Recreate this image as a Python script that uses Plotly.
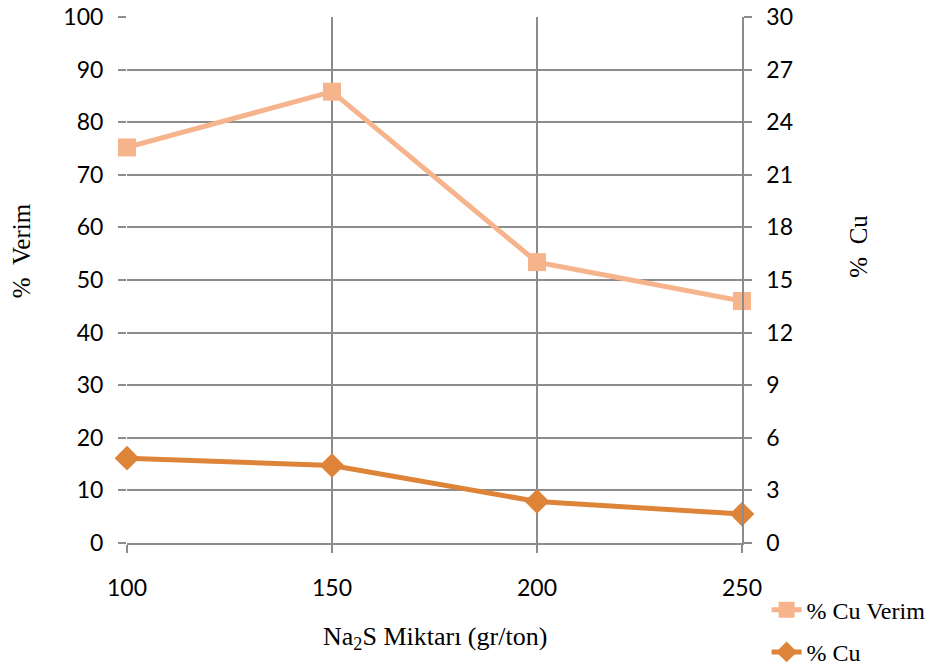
import plotly.graph_objects as go

# Na2S dosage (gr/ton)
na2s = [100, 150, 200, 250]
# Copper recovery (%) - left axis
cu_verim = [75.2, 85.8, 53.4, 46.0]
# Copper grade (%) - right axis
cu_grade = [4.84, 4.42, 2.37, 1.65]

left_ticks = list(range(0, 101, 10))
right_ticks = list(range(0, 31, 3))

verim_color = "#F6B48C"
cu_color = "#DD8439"
grid_color = "#8C8C8C"
tick_font = dict(family="Lato, 'Open Sans', sans-serif", size=23, color="#000000")
serif = "'Liberation Serif', 'Times New Roman', serif"
nb = "\u00a0"

fig = go.Figure()
fig.add_trace(go.Scatter(
    x=na2s, y=cu_verim, name="% Cu Verim", mode="lines+markers",
    line=dict(color=verim_color, width=5),
    marker=dict(symbol="square", size=18, color=verim_color),
    cliponaxis=False, legend="legend", yaxis="y",
))
fig.add_trace(go.Scatter(
    x=na2s, y=cu_grade, name="% Cu", mode="lines+markers",
    line=dict(color=cu_color, width=5),
    marker=dict(symbol="diamond", size=19, color=cu_color),
    cliponaxis=False, legend="legend2", yaxis="y2",
))

fig.update_layout(
    width=947, height=667,
    margin=dict(l=127, r=205, t=17, b=124, autoexpand=False),
    paper_bgcolor="white", plot_bgcolor="white",
    xaxis=dict(
        range=[100, 250], tickvals=na2s, ticktext=[str(v) for v in na2s],
        showgrid=True, gridcolor=grid_color, gridwidth=1.5,
        showline=True, linecolor=grid_color, linewidth=1.5,
        ticks="outside", ticklen=8, tickcolor=grid_color, tickwidth=1.5,
        ticklabelstandoff=16, tickfont=tick_font, zeroline=False,
    ),
    yaxis=dict(
        range=[0, 100], tickvals=left_ticks,
        showgrid=True, gridcolor=grid_color, gridwidth=1.5,
        showline=False, ticks="outside", ticklen=8, tickcolor=grid_color,
        tickwidth=1.5, ticklabelstandoff=10, tickfont=tick_font, zeroline=False,
    ),
    yaxis2=dict(
        range=[0, 30], tickvals=right_ticks, overlaying="y", side="right",
        showgrid=False, showline=True, linecolor=grid_color, linewidth=1.5,
        ticks="outside", ticklen=8, tickcolor=grid_color, tickwidth=1.5,
        ticklabelstandoff=10, tickfont=tick_font, zeroline=False,
    ),
    legend=dict(
        x=1.04, y=-0.085, xanchor="left", yanchor="top",
        font=dict(family=serif, size=24, color="#000000"),
        bgcolor="rgba(0,0,0,0)",
    ),
    legend2=dict(
        x=1.04, y=-0.165, xanchor="left", yanchor="top",
        font=dict(family=serif, size=24, color="#000000"),
        bgcolor="rgba(0,0,0,0)",
    ),
    showlegend=True,
    annotations=[
        dict(text=f"%{nb}{nb}Verim", xref="paper", yref="paper", x=-0.172, y=0.555,
             textangle=-90, showarrow=False, xanchor="center", yanchor="middle",
             font=dict(family=serif, size=25, color="#000000")),
        dict(text=f"%{nb}{nb}Cu", xref="paper", yref="paper", x=1.19, y=0.565,
             textangle=-90, showarrow=False, xanchor="center", yanchor="middle",
             font=dict(family=serif, size=25, color="#000000")),
        dict(text="Na<sub>2</sub>S Miktarı (gr/ton)", xref="paper", yref="paper",
             x=0.5, y=-0.18, showarrow=False, xanchor="center", yanchor="middle",
             font=dict(family=serif, size=26, color="#000000")),
    ],
)

fig.write_html("out.html")
